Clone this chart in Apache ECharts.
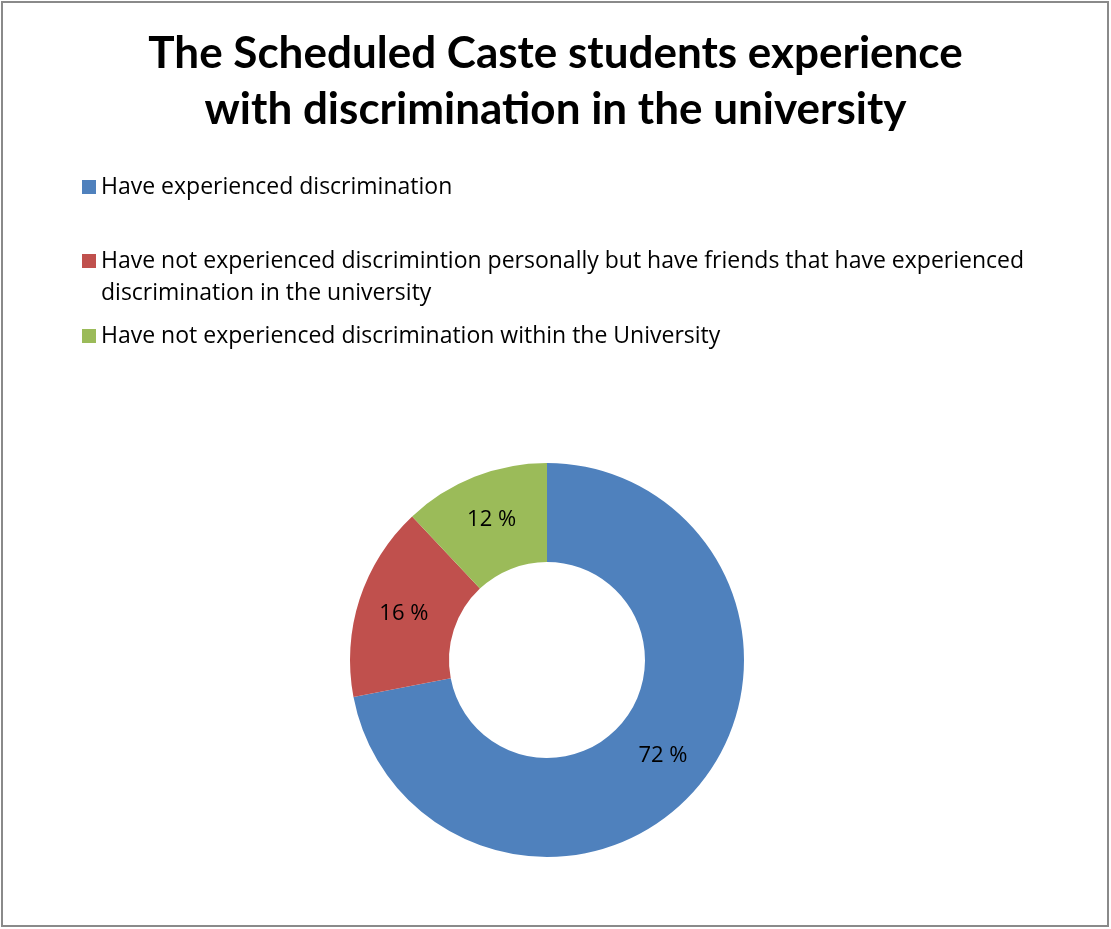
<!DOCTYPE html>
<html>
<head>
<meta charset="utf-8">
<script src="https://cdn.jsdelivr.net/npm/echarts@6/dist/echarts.min.js"></script>
<style>
html,body{margin:0;padding:0;background:#fff;}
#chart{width:1111px;height:929px;}
</style>
</head>
<body>
<div id="chart"></div>
<script>
var titleText = 'The Scheduled Caste students experience\nwith discrimination in the university';
var categories = [
  'Have experienced discrimination',
  'Have not experienced discrimintion personally but have friends that have experienced discrimination in the university',
  'Have not experienced discrimination within the University'
];
var values = [72, 16, 12];
var colors = ['#4F81BD', '#C0504D', '#9BBB59'];

var TITLE_FONT = 'Lato, "Open Sans", sans-serif';
var FONT = '"Open Sans", Lato, sans-serif';
var chart = echarts.init(document.getElementById('chart'), null, {renderer: 'canvas'});

function legendFor(i, top) {
  return {
    data: [categories[i]],
    left: 82,
    top: top,
    orient: 'vertical',
    padding: 0,
    itemWidth: 14,
    itemHeight: 14,
    icon: 'rect',
    selectedMode: false,
    itemStyle: {borderWidth: 0},
    textStyle: {fontFamily: FONT, fontSize: 23, color: '#000', lineHeight: 32},
    formatter: function (name) {
      if (name.indexOf(' experienced discrimination in') >= 0) {
        return '\n' + name.replace(' experienced discrimination in', ' experienced\ndiscrimination in');
      }
      return name;
    }
  };
}

chart.setOption({
  backgroundColor: '#fff',
  animation: false,
  color: colors,
  title: {
    text: titleText,
    left: 'center',
    top: 21,
    textStyle: {fontFamily: TITLE_FONT, fontSize: 44, fontWeight: 'bold', color: '#000', lineHeight: 56}
  },
  legend: [
    legendFor(0, 171),
    legendFor(1, 213),
    legendFor(2, 320)
  ],
  graphic: [{
    type: 'rect',
    shape: {x: 2, y: 2, width: 1106, height: 924},
    style: {fill: 'none', stroke: '#8a8a8a', lineWidth: 2},
    silent: true
  }],
  series: [{
    type: 'pie',
    center: [547, 660],
    radius: [98, 197],
    startAngle: 90,
    clockwise: true,
    avoidLabelOverlap: false,
    label: {
      show: true,
      position: 'inside',
      formatter: '{c} %',
      fontFamily: FONT,
      fontSize: 22,
      color: '#000'
    },
    labelLine: {show: false},
    itemStyle: {borderWidth: 0},
    emphasis: {disabled: true},
    data: categories.map(function (c, i) { return {name: c, value: values[i]}; })
  }]
});
</script>
</body>
</html>
